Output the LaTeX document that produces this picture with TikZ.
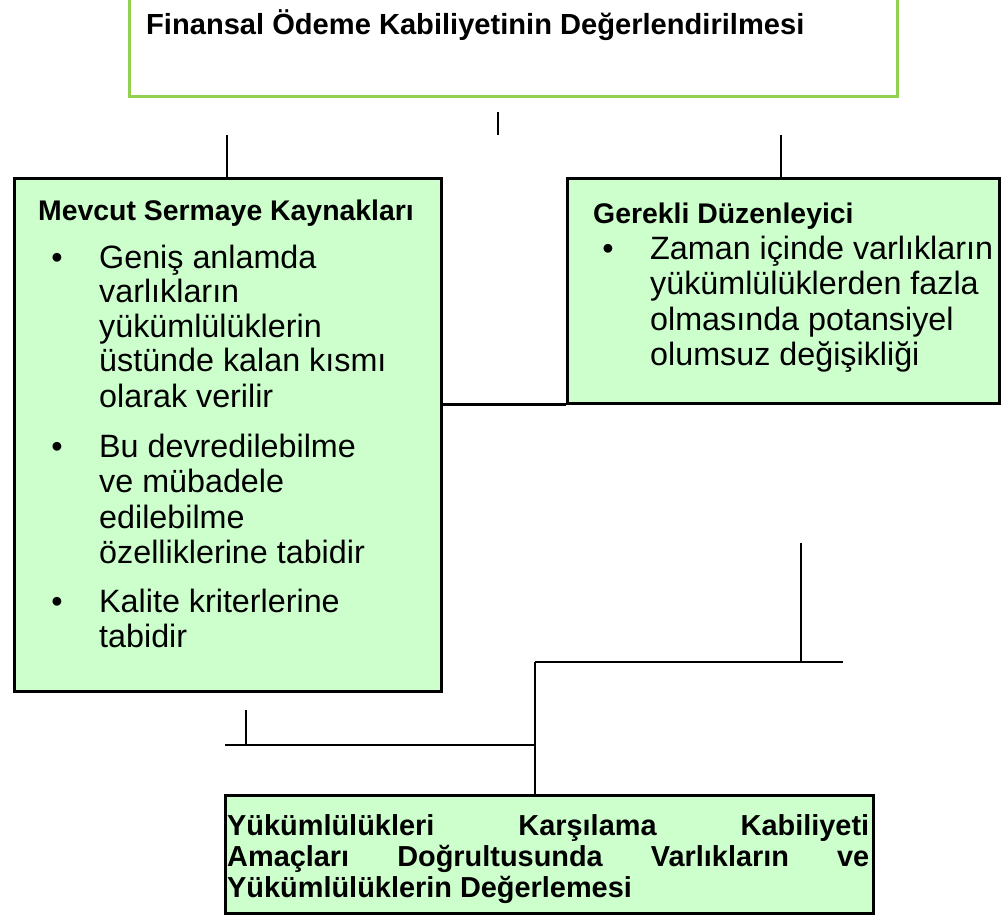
\documentclass[tikz,border=0pt]{standalone}
\usepackage{fontspec}
\setmainfont{Liberation Sans}
\definecolor{mint}{HTML}{CCFFCC}
\definecolor{leaf}{HTML}{92D050}
\begin{document}
\begin{tikzpicture}[x=1pt,y=-1pt,
  box/.style={rectangle, draw=black, line width=2.8pt, fill=mint, inner sep=0pt, anchor=north west},
  topbox/.style={rectangle, draw=leaf, line width=3pt, fill=white, inner sep=0pt, anchor=north west},
  wire/.style={draw=black, line width=2.8pt},
  body/.style={font=\fontsize{32.3}{34}\selectfont, anchor=base west, inner sep=0pt},
  dot/.style={font=\fontsize{32.3}{34}\selectfont, anchor=base, inner sep=0pt},
  head/.style={font=\fontsize{28.4}{30}\selectfont\bfseries, anchor=base west, inner sep=0pt},
  foot/.style={font=\fontsize{28.9}{30}\selectfont\bfseries, anchor=base west, inner sep=0pt}]
\useasboundingbox (0,0) rectangle (1005,915);
\fill[white] (0,0) rectangle (1005,915);

% boxes
\node[topbox, minimum width=768pt, minimum height=99pt] (top) at (128,-4) {};
\node[box, minimum width=427pt, minimum height=513pt] (lbox) at (13,177) {};
\node[box, minimum width=432pt, minimum height=225pt] (rbox) at (566,177) {};
\node[box, minimum width=648pt, minimum height=118pt] (bbox) at (224,794) {};

% heading of the top box
\node[head, font=\fontsize{29.1}{30}\selectfont\bfseries] (toptitle) at (146,35) {Finansal Ödeme Kabiliyetinin Değerlendirilmesi};

% left box: available capital resources
\node[head] (ltitle) at (38,221) {Mevcut Sermaye Kaynakları};
\node[dot] (lb1) at (57,268) {•};
\node[body] (l1) at (99,268) {Geniş anlamda};
\node[body] (l2) at (99,302.5) {varlıkların};
\node[body] (l3) at (99,337) {yükümlülüklerin};
\node[body] (l4) at (99,371.5) {üstünde kalan kısmı};
\node[body] (l5) at (99,407) {olarak verilir};
\node[dot] (lb2) at (57,457) {•};
\node[body] (l6) at (99,457) {Bu devredilebilme};
\node[body] (l7) at (99,492.5) {ve mübadele};
\node[body] (l8) at (99,528) {edilebilme};
\node[body] (l9) at (99,563.5) {özelliklerine tabidir};
\node[dot] (lb3) at (57,612) {•};
\node[body] (l10) at (99,612) {Kalite kriterlerine};
\node[body] (l11) at (99,647) {tabidir};

% right box: required regulatory
\node[head] (rtitle) at (593,223) {Gerekli Düzenleyici};
\node[dot] (rb1) at (608,259) {•};
\node[body] (r1) at (650,259) {Zaman içinde varlıkların};
\node[body] (r2) at (650,294.5) {yükümlülüklerden fazla};
\node[body] (r3) at (650,330) {olmasında potansiyel};
\node[body] (r4) at (650,365.5) {olumsuz değişikliği};

% bottom box, justified lines
\node[foot] (b1) at (227,835) {\hbox to 642pt{Yükümlülükleri\hfill Karşılama\hfill Kabiliyeti}};
\node[foot] (b2) at (227,866) {\hbox to 642pt{Amaçları\hfill Doğrultusunda\hfill Varlıkların\hfill ve}};
\node[foot] (b3) at (227,897) {Yükümlülüklerin Değerlemesi};

% connectors
\coordinate (tm1) at (498,112);
\coordinate (tm2) at (498,135);
\draw[wire] (tm1) -- (tm2);
\coordinate (lt) at (227,135);
\draw[wire] (lt) -- (lt |- lbox.north);
\coordinate (rt) at (781,135);
\draw[wire] (rt) -- (rt |- rbox.north);
\draw[wire] (lbox.east |- rbox.south) -- (rbox.south west);

\coordinate (v1) at (801,543);
\coordinate (hR) at (843,662);
\coordinate (hL) at (535,662);
\draw[wire] (v1) -- (v1 |- hR);
\draw[wire] (hL) -- (hR);
\draw[wire] (hL) -- (hL |- bbox.north);
\coordinate (m1) at (225,745);
\draw[wire] (m1) -- (hL |- m1);
\coordinate (s1) at (246,710);
\draw[wire] (s1) -- (s1 |- m1);
\end{tikzpicture}
\end{document}
